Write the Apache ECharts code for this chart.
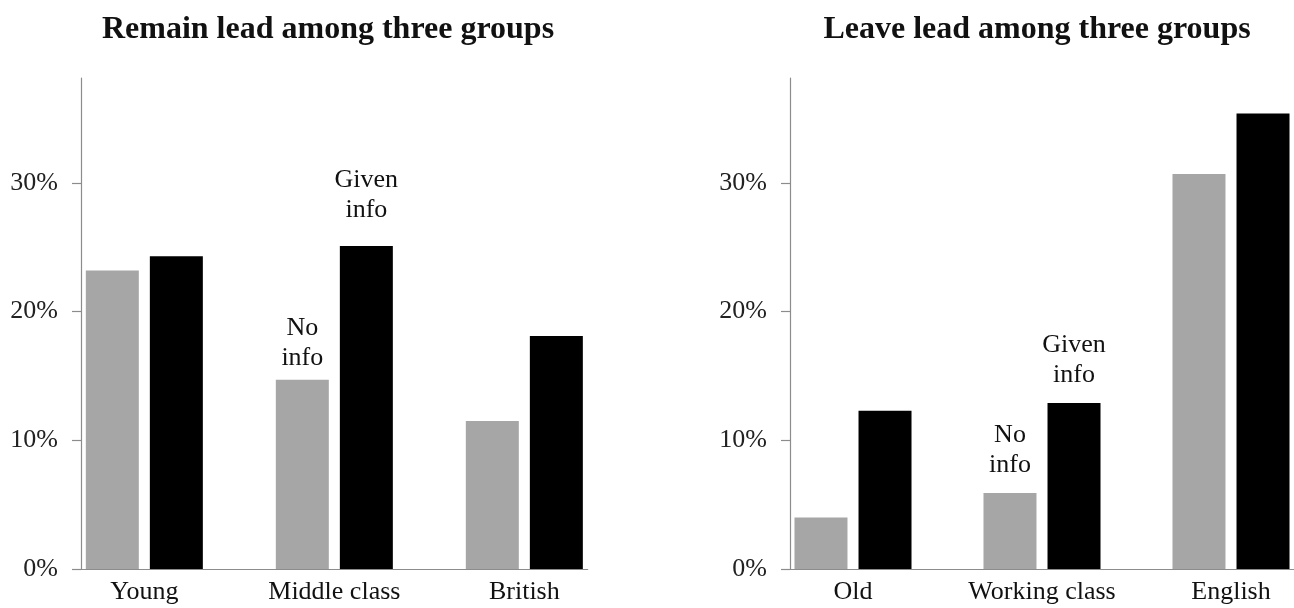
<!DOCTYPE html>
<html>
<head>
<meta charset="utf-8">
<script src="https://cdn.jsdelivr.net/npm/echarts@6/dist/echarts.min.js"></script>
<style>
html,body{margin:0;padding:0;background:#fff;}
#chart{width:1294px;height:608px;}
</style>
</head>
<body>
<div id="chart"></div>
<script>
// ---- data ----
const titles = ['Remain lead among three groups', 'Leave lead among three groups'];
const remainCategories = ['Young', 'Middle class', 'British'];
const remainNoInfo = [23.2, 14.7, 11.5];
const remainGiven = [24.3, 25.1, 18.1];
const leaveCategories = ['Old', 'Working class', 'English'];
const leaveNoInfo = [4.0, 5.9, 30.7];
const leaveGiven = [12.3, 12.9, 35.4];
const yTicks = [0, 10, 20, 30];
const noInfoNote = 'No\ninfo';
const givenNote = 'Given\ninfo';
const noteCategory = 1;   // annotations sit on the middle group of each chart

// ---- styles ----
const FONT = '"Liberation Serif", "Times New Roman", serif';
const GRAY = '#a6a6a6';
const BLACK = '#000000';
const AXIS = '#8c8c8c';
const gridLefts = [81, 790];
const gridTop = 78, gridHeight = 491, gridWidth = 190 * 8 / 3;
const titleX = [328, 1037];
// label distance above the bar for [noInfo, given] in each chart
const noteDistances = [[7, 21], [13, 13]];

const chart = echarts.init(document.getElementById('chart'), null, {renderer: 'canvas'});

function makeData(values, note, dist) {
  return values.map((v, i) => {
    const item = {value: [i, v]};
    if (i === noteCategory) {
      item.label = {
        show: true, position: 'top', distance: dist,
        formatter: note, fontFamily: FONT, fontSize: 26, lineHeight: 30, color: '#111'
      };
    }
    return item;
  });
}

const cats = [remainCategories, leaveCategories];
const grids = [], xAxes = [], yAxes = [], series = [];
[[remainNoInfo, remainGiven], [leaveNoInfo, leaveGiven]].forEach((pair, k) => {
  grids.push({left: gridLefts[k], top: gridTop, width: gridWidth, height: gridHeight, containLabel: false});
  xAxes.push({
    type: 'value', gridIndex: k, min: -1 / 3, max: 7 / 3,
    axisLine: {show: true, onZero: true, lineStyle: {color: AXIS, width: 1.2}},
    axisTick: {show: false},
    splitLine: {show: false},
    axisLabel: {
      customValues: [0, 1, 2], margin: 10,
      formatter: v => cats[k][Math.round(v)] || '',
      fontFamily: FONT, fontSize: 26, color: '#111'
    }
  });
  yAxes.push({
    type: 'value', gridIndex: k, min: 0, max: 38.15,
    axisLine: {show: true, onZero: false, lineStyle: {color: AXIS, width: 1.2}},
    axisTick: {show: true, customValues: yTicks, length: 9, lineStyle: {color: AXIS, width: 1.2}},
    splitLine: {show: false},
    axisLabel: {
      customValues: yTicks, margin: 23,
      formatter: v => v + '%',
      fontFamily: FONT, fontSize: 26, color: '#222'
    }
  });
  series.push({
    type: 'bar', xAxisIndex: k, yAxisIndex: k, barWidth: 53, barGap: '20.8%',
    itemStyle: {color: GRAY}, data: makeData(pair[0], noInfoNote, noteDistances[k][0])
  });
  series.push({
    type: 'bar', xAxisIndex: k, yAxisIndex: k, barWidth: 53, barGap: '20.8%',
    itemStyle: {color: BLACK}, data: makeData(pair[1], givenNote, noteDistances[k][1])
  });
});

chart.setOption({
  animation: false,
  backgroundColor: '#fff',
  grid: grids,
  xAxis: xAxes,
  yAxis: yAxes,
  series: series,
  graphic: titles.map((t, k) => ({
    type: 'text', x: titleX[k], y: 30,
    style: {text: t, font: 'bold 32px ' + FONT, fill: '#111', textAlign: 'center', textVerticalAlign: 'middle'}
  }))
});
</script>
</body>
</html>
